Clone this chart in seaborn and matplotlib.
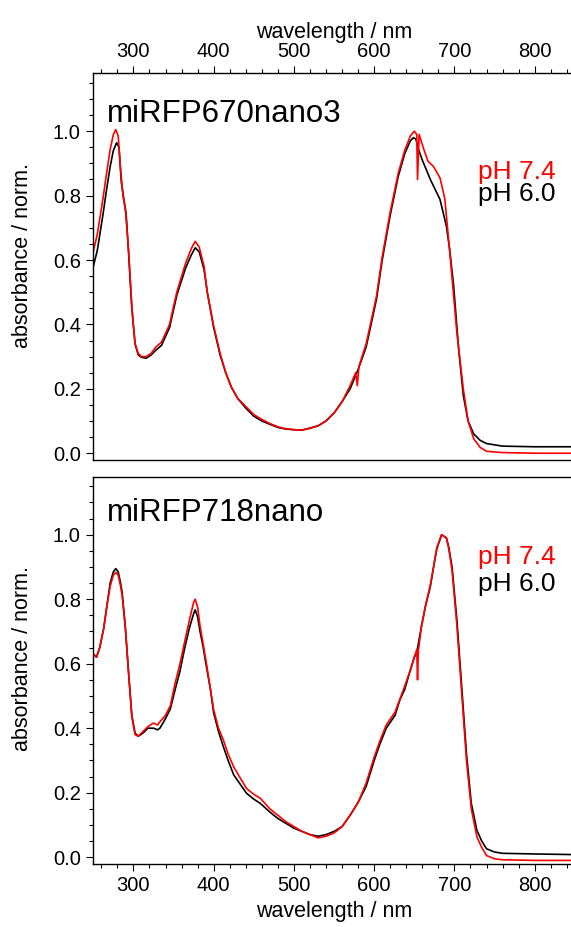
import numpy as np
import pandas as pd
import seaborn as sns
import matplotlib
matplotlib.use("Agg")
import matplotlib.pyplot as plt
from matplotlib.ticker import MultipleLocator

# panel names and legend entries
panels = ["miRFP670nano3", "miRFP718nano"]
ph_labels = ["pH 7.4", "pH 6.0"]
ph_colors = ["#ff0000", "#000000"]

# miRFP670nano3, pH 6.0 (black)
top_wl_60 = [250, 255, 262, 266, 271, 275, 279, 282, 285, 288, 291, 294, 298, 302, 306,
             310, 316, 322, 328, 335, 345, 354, 365, 372, 377, 382, 388, 392, 400, 408,
             415, 422, 430, 440, 450, 460, 470, 480, 490, 500, 510, 520, 530, 540, 550,
             560, 570, 580, 590, 597, 603, 610, 620, 630, 638, 645, 649, 652, 655, 660,
             670, 682, 690, 694, 699, 705, 711, 717, 724, 732, 740, 760, 800, 850]
top_abs_60 = [0.58, 0.63, 0.74, 0.81, 0.89, 0.94, 0.964, 0.95, 0.84, 0.79, 0.74, 0.62, 0.45, 0.34, 0.305,
              0.298, 0.295, 0.305, 0.32, 0.335, 0.39, 0.49, 0.575, 0.615, 0.638, 0.625, 0.57, 0.50, 0.39, 0.305,
              0.25, 0.205, 0.17, 0.14, 0.115, 0.10, 0.09, 0.08, 0.075, 0.073, 0.072, 0.078, 0.085, 0.10, 0.125,
              0.16, 0.20, 0.26, 0.33, 0.41, 0.48, 0.60, 0.74, 0.86, 0.93, 0.97, 0.98, 0.975, 0.945, 0.91,
              0.85, 0.788, 0.705, 0.633, 0.52, 0.33, 0.18, 0.10, 0.06, 0.04, 0.03, 0.022, 0.02, 0.02]

# miRFP670nano3, pH 7.4 (red)
top_wl_74 = [250, 255, 262, 266, 271, 275, 278, 281, 284, 287, 290, 294, 298, 302, 306,
             310, 316, 322, 328, 335, 345, 354, 365, 372, 377, 382, 388, 392, 400, 408,
             415, 422, 430, 440, 450, 460, 470, 480, 490, 500, 510, 520, 530, 540, 550,
             560, 570, 577, 579, 581, 590, 597, 603, 610, 620, 630, 638, 645, 650, 653,
             654, 656, 661, 667, 674, 682, 688, 694, 703, 711, 717, 724, 732, 740, 760,
             800, 850]
top_abs_74 = [0.627, 0.68, 0.79, 0.86, 0.943, 0.99, 1.005, 0.985, 0.88, 0.80, 0.757, 0.63, 0.456, 0.34, 0.31,
              0.30, 0.30, 0.31, 0.33, 0.345, 0.40, 0.50, 0.59, 0.635, 0.658, 0.64, 0.58, 0.50, 0.395, 0.31,
              0.25, 0.205, 0.17, 0.145, 0.12, 0.105, 0.092, 0.082, 0.076, 0.073, 0.072, 0.077, 0.085, 0.10, 0.125,
              0.16, 0.21, 0.25, 0.21, 0.27, 0.34, 0.42, 0.49, 0.61, 0.75, 0.87, 0.94, 0.985, 1.0, 0.99,
              0.85, 0.99, 0.95, 0.907, 0.89, 0.855, 0.79, 0.63, 0.375, 0.20, 0.10, 0.045, 0.018, 0.006, 0.002,
              0.0, 0.0]

# miRFP718nano, pH 6.0 (black)
bot_wl_60 = [250, 254, 258, 263, 267, 271, 275, 278, 281, 284, 286, 290, 294, 298, 302,
             306, 312, 318, 325, 330, 333, 340, 346, 352, 358, 364, 370, 375, 377, 380,
             383, 387, 391, 396, 400, 406, 412, 418, 425, 432, 441, 450, 458, 470, 480,
             490, 500, 510, 520, 530, 540, 550, 560, 570, 580, 590, 600, 607, 615, 626,
             632, 638, 645, 650, 653, 659, 664, 670, 674, 678, 684, 690, 693, 697, 703,
             709, 715, 721, 728, 734, 740, 750, 760, 800, 850]
bot_abs_60 = [0.63, 0.62, 0.65, 0.71, 0.78, 0.85, 0.885, 0.895, 0.885, 0.85, 0.82, 0.71, 0.57, 0.44, 0.385,
              0.375, 0.385, 0.40, 0.40, 0.395, 0.40, 0.43, 0.46, 0.52, 0.577, 0.65, 0.713, 0.755, 0.767, 0.745,
              0.70, 0.65, 0.59, 0.52, 0.447, 0.39, 0.343, 0.30, 0.255, 0.23, 0.198, 0.18, 0.167, 0.14, 0.12,
              0.105, 0.09, 0.08, 0.07, 0.065, 0.07, 0.08, 0.095, 0.13, 0.17, 0.22, 0.30, 0.35, 0.40, 0.44,
              0.488, 0.52, 0.58, 0.62, 0.634, 0.717, 0.78, 0.84, 0.90, 0.956, 1.0, 0.99, 0.96, 0.90, 0.737,
              0.53, 0.32, 0.167, 0.083, 0.05, 0.026, 0.016, 0.012, 0.01, 0.008]

# miRFP718nano, pH 7.4 (red)
bot_wl_74 = [250, 254, 258, 263, 267, 271, 275, 278, 281, 284, 286, 290, 294, 298, 302,
             306, 312, 318, 325, 330, 333, 340, 346, 352, 358, 364, 370, 375, 377, 380,
             383, 387, 391, 396, 400, 406, 412, 418, 425, 432, 441, 450, 458, 470, 480,
             490, 500, 510, 520, 530, 540, 550, 560, 570, 580, 590, 600, 607, 615, 626,
             632, 638, 645, 650, 653, 654, 655, 659, 664, 670, 674, 678, 684, 690, 693,
             697, 703, 709, 715, 721, 728, 734, 740, 750, 760, 800, 850]
bot_abs_74 = [0.63, 0.62, 0.65, 0.71, 0.78, 0.84, 0.875, 0.883, 0.875, 0.84, 0.81, 0.71, 0.57, 0.436, 0.38,
              0.375, 0.39, 0.405, 0.416, 0.41, 0.42, 0.44, 0.47, 0.54, 0.60, 0.67, 0.738, 0.79, 0.80, 0.775,
              0.717, 0.66, 0.60, 0.52, 0.457, 0.40, 0.364, 0.32, 0.28, 0.25, 0.213, 0.195, 0.183, 0.15, 0.13,
              0.11, 0.095, 0.08, 0.07, 0.06, 0.065, 0.075, 0.095, 0.13, 0.17, 0.23, 0.31, 0.36, 0.41, 0.45,
              0.49, 0.53, 0.58, 0.62, 0.644, 0.55, 0.64, 0.717, 0.78, 0.845, 0.90, 0.96, 1.0, 0.99, 0.955,
              0.89, 0.72, 0.51, 0.30, 0.15, 0.063, 0.03, 0.005, -0.005, -0.008, -0.01, -0.01]

sns.set_theme(style="ticks")
plt.rcParams['font.family'] = ['Liberation Sans', 'DejaVu Sans']
plt.rcParams['axes.linewidth'] = 1.0
plt.rcParams['axes.edgecolor'] = 'black'
plt.rcParams['text.color'] = 'black'
plt.rcParams['axes.labelcolor'] = 'black'
plt.rcParams['xtick.color'] = 'black'
plt.rcParams['ytick.color'] = 'black'

fig = plt.figure(figsize=(5.71, 9.27), dpi=100)
ax_top = fig.add_axes([0.1634, 0.5038, 0.8433, 0.4172])
ax_bot = fig.add_axes([0.1634, 0.0680, 0.8433, 0.4178])

series = [
    (ax_top, top_wl_60, top_abs_60, top_wl_74, top_abs_74),
    (ax_bot, bot_wl_60, bot_abs_60, bot_wl_74, bot_abs_74),
]

for ax, w60, a60, w74, a74 in series:
    d60 = pd.DataFrame({"wl": w60, "abs": a60})
    d74 = pd.DataFrame({"wl": w74, "abs": a74})
    sns.lineplot(data=d60, x="wl", y="abs", ax=ax, color=ph_colors[1], lw=1.2,
                 estimator=None, sort=False)
    sns.lineplot(data=d74, x="wl", y="abs", ax=ax, color=ph_colors[0], lw=1.2,
                 estimator=None, sort=False)
    ax.set_xlim(250, 850)
    ax.set_ylim(-0.021, 1.18)
    ax.xaxis.set_major_locator(MultipleLocator(100))
    ax.xaxis.set_minor_locator(MultipleLocator(20))
    ax.yaxis.set_major_locator(MultipleLocator(0.2))
    ax.yaxis.set_minor_locator(MultipleLocator(0.05))
    ax.yaxis.set_major_formatter(plt.FormatStrFormatter('%.1f'))
    ax.tick_params(which='major', length=5, width=0.8, labelsize=14.5, direction='out', pad=4)
    ax.tick_params(which='minor', length=3, width=0.8, direction='out')
    ax.set_ylabel("absorbance / norm.", fontsize=15.5)
    ax.yaxis.set_label_coords(-0.125, 0.53)
    ax.spines['right'].set_visible(False)

ax_top.tick_params(which='both', top=True, bottom=False, labeltop=True, labelbottom=False)
ax_top.xaxis.set_label_position('top')
ax_top.set_xlabel("wavelength / nm", fontsize=15.5, labelpad=3)
ax_bot.tick_params(which='both', top=False, bottom=True, labeltop=False, labelbottom=True)
ax_bot.set_xlabel("wavelength / nm", fontsize=15.5, labelpad=4)

ax_top.text(267, 1.03, panels[0], fontsize=22.5, ha='left', va='baseline')
ax_bot.text(267, 1.043, panels[1], fontsize=22.5, ha='left', va='baseline')

ax_top.text(826, 0.85, ph_labels[0], color=ph_colors[0], fontsize=19, ha='right', va='baseline')
ax_top.text(826, 0.783, ph_labels[1], color=ph_colors[1], fontsize=19, ha='right', va='baseline')
ax_bot.text(826, 0.909, ph_labels[0], color=ph_colors[0], fontsize=19, ha='right', va='baseline')
ax_bot.text(826, 0.826, ph_labels[1], color=ph_colors[1], fontsize=19, ha='right', va='baseline')

fig.savefig("out.png", dpi=100)
